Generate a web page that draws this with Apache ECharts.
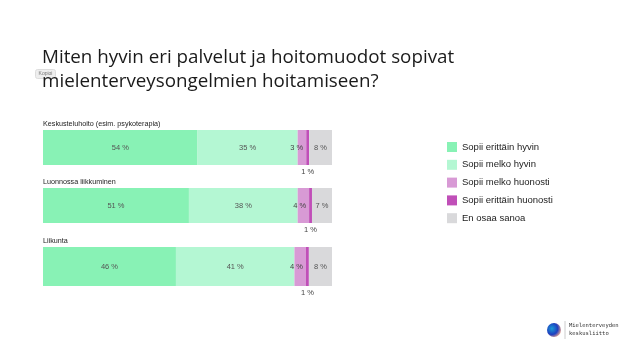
<!DOCTYPE html>
<html><head><meta charset="utf-8">
<script src="https://cdn.jsdelivr.net/npm/echarts@6/dist/echarts.min.js"></script>
<style>html,body{margin:0;padding:0;background:#fff}#c{width:640px;height:361px}</style>
</head><body><div id="c"></div>
<script>
const categories = ["Keskusteluhoito (esim. psykoterapia)", "Luonnossa liikkuminen", "Liikunta"];
const seriesNames = ["Sopii erittäin hyvin", "Sopii melko hyvin", "Sopii melko huonosti", "Sopii erittäin huonosti", "En osaa sanoa"];
const veryWell = [54, 51, 46];
const fairlyWell = [35, 38, 41];
const fairlyPoor = [3, 4, 4];
const veryPoor = [1, 1, 1];
const dontKnow = [8, 7, 8];
const titleText = "Miten hyvin eri palvelut ja hoitomuodot sopivat\nmielenterveysongelmien hoitamiseen?";

const values = [veryWell, fairlyWell, fairlyPoor, veryPoor, dontKnow];
const colors = ["#88F2B5", "#B4F7D3", "#D89AD5", "#C04FB8", "#D9D9DB"];
const gridTops = [130, 188, 247];
const gridHeights = [35, 35, 39];
const font = "'Open Sans', 'Noto Sans', sans-serif";
const small = "'Liberation Sans', Arial, sans-serif";

const grids = [], xAxes = [], yAxes = [], series = [], titles = [];
titles.push({ text: titleText, left: 37, top: 41, textStyle: { fontFamily: font, fontSize: 18.8, fontWeight: 'normal', color: '#1a1a1a', lineHeight: 24 } });
categories.forEach((cat, i) => {
  const total = values.reduce((s, arr) => s + arr[i], 0);
  grids.push({ left: 43, width: 289, top: gridTops[i], height: gridHeights[i] });
  xAxes.push({ type: 'value', gridIndex: i, min: 0, max: total, show: false });
  yAxes.push({ type: 'category', gridIndex: i, data: [cat], show: false });
  titles.push({ text: cat, left: 38, top: gridTops[i] - 14, textStyle: { fontFamily: small, fontSize: 7.2, fontWeight: 'normal', color: '#222' } });
  values.forEach((arr, k) => {
    let label;
    if (k === 3) label = { show: true, position: 'bottom', distance: 3, color: '#444', fontSize: 7.5, fontFamily: small, formatter: '{c} %' };
    else if (k === 2) label = { show: true, position: 'insideRight', distance: 3, color: '#444', fontSize: 7.5, fontFamily: small, formatter: '{c} %' };
    else label = { show: true, position: 'inside', color: '#555', fontSize: 7.5, fontFamily: small, formatter: '{c} %' };
    series.push({
      name: seriesNames[k], type: 'bar', stack: 's' + i, xAxisIndex: i, yAxisIndex: i,
      barWidth: '100%', data: [arr[i]], itemStyle: { color: colors[k] }, label, animation: false
    });
  });
});

const chart = echarts.init(document.getElementById('c'), null, { renderer: 'canvas' });
chart.setOption({
  animation: false,
  color: colors,
  title: titles,
  grid: grids, xAxis: xAxes, yAxis: yAxes, series,
  legend: {
    orient: 'vertical', left: 442, top: 137, itemWidth: 10, itemHeight: 10, itemGap: 7.8,
    icon: 'rect', data: seriesNames, padding: 5,
    textStyle: { fontFamily: small, fontSize: 9.5, color: '#222' }
  },
  graphic: [
    { type: 'group', left: 35, top: 69, children: [
      { type: 'rect', shape: { x: 0, y: 0, width: 20, height: 9, r: 2 }, style: { fill: '#eeeeee', stroke: '#dddddd' } },
      { type: 'text', style: { x: 10, y: 4.5, text: 'Kopioi', fontSize: 5, fill: '#777', align: 'center', verticalAlign: 'middle' } }
    ]},
    { type: 'circle', shape: { cx: 554, cy: 330, r: 7 }, style: { fill: { type: 'radial', x: 0.35, y: 0.4, r: 0.7, colorStops: [{ offset: 0, color: '#1a9ad6' }, { offset: 0.6, color: '#1e3fbf' }, { offset: 1, color: '#f0a890' }] } } },
    { type: 'line', shape: { x1: 565, y1: 321, x2: 565, y2: 339 }, style: { stroke: '#cccccc', lineWidth: 1 } },
    { type: 'text', style: { x: 569, y: 322, text: 'Mielenterveyden\nkeskusliitto', fontSize: 5.5, lineHeight: 8, fontFamily: "'DejaVu Sans Mono', monospace", fill: '#333' } }
  ]
});
</script></body></html>
